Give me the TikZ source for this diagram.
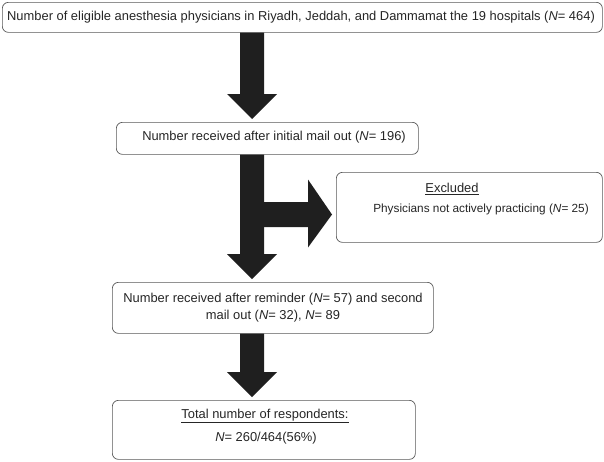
\documentclass[tikz,border=0pt]{standalone}
\usepackage{fontspec}
\setmainfont{Liberation Sans}
\usetikzlibrary{calc}
\begin{document}
\begin{tikzpicture}[x=1pt,y=-1pt,
  box/.style={draw=black!65, line width=0.7pt, rounded corners=6pt, anchor=north west, inner sep=0pt},
  txt/.style={font=\fontsize{12.9}{17}\selectfont, inner sep=0pt, text=black!85},
  small/.style={font=\fontsize{11.8}{14}\selectfont, inner sep=0pt, text=black!85},
  blk/.style={fill=black!88}]
\useasboundingbox (0,0) rectangle (604,461);
\fill[white] (0,0) rectangle (604,461);
% boxes
\node[box, minimum width=600pt, minimum height=30pt] (b1) at (2,2) {};
\node[box, minimum width=302pt, minimum height=32pt] (b2) at (116,122) {};
\node[box, minimum width=266pt, minimum height=70pt] (ex) at (336,172) {};
\node[box, minimum width=321pt, minimum height=51pt] (b3) at (112,282) {};
\node[box, minimum width=303pt, minimum height=59pt] (b4) at (112,400) {};
% texts
\node[txt] (t1) at (301,17) {Number of eligible anesthesia physicians in Riyadh, Jeddah, and Dammamat the 19 hospitals (\textit{N}= 464)};
\node[txt] (t2) at (274,137) {Number received after initial mail out (\textit{N}= 196)};
\node[txt] (t3) at (452,189) {\underline{Excluded}};
\node[small] (t4) at (481,209) {Physicians not actively practicing (\textit{N}= 25)};
\node[txt, align=center] (t5) at (273,308) {Number received after reminder (\textit{N}= 57) and second\\mail out (\textit{N}= 32), \textit{N}= 89};
\node[txt] (t6) at (265,416) {\underline{Total number of respondents:}};
\node[txt] (t7) at (266,438) {\textit{N}= 260/464(56\%)};
% block arrows
\coordinate (ax) at (252,0);
\newcommand\blockdown[2]{%
  \fill[blk] ($(ax |- #1.south)+(-12,0)$) -- ($(ax |- #2.north)+(-12,-28)$)
    -- ($(ax |- #2.north)+(-25,-28)$) -- ($(ax |- #2.north)+(0,-3)$)
    -- ($(ax |- #2.north)+(25,-28)$) -- ($(ax |- #2.north)+(12,-28)$)
    -- ($(ax |- #1.south)+(12,0)$) -- cycle;}
\blockdown{b1}{b2}
\blockdown{b2}{b3}
\blockdown{b3}{b4}
% side branch to excluded box
\coordinate (br) at (0,214.5);
\fill[blk] ($(ax |- br)+(0,-12.5)$) -- ($(ex.west |- br)+(-28,-12.5)$)
  -- ($(ex.west |- br)+(-28,-35)$) -- ($(ex.west |- br)+(-4,0)$)
  -- ($(ex.west |- br)+(-28,33)$) -- ($(ex.west |- br)+(-28,12.5)$)
  -- ($(ax |- br)+(0,12.5)$) -- cycle;
\end{tikzpicture}
\end{document}
